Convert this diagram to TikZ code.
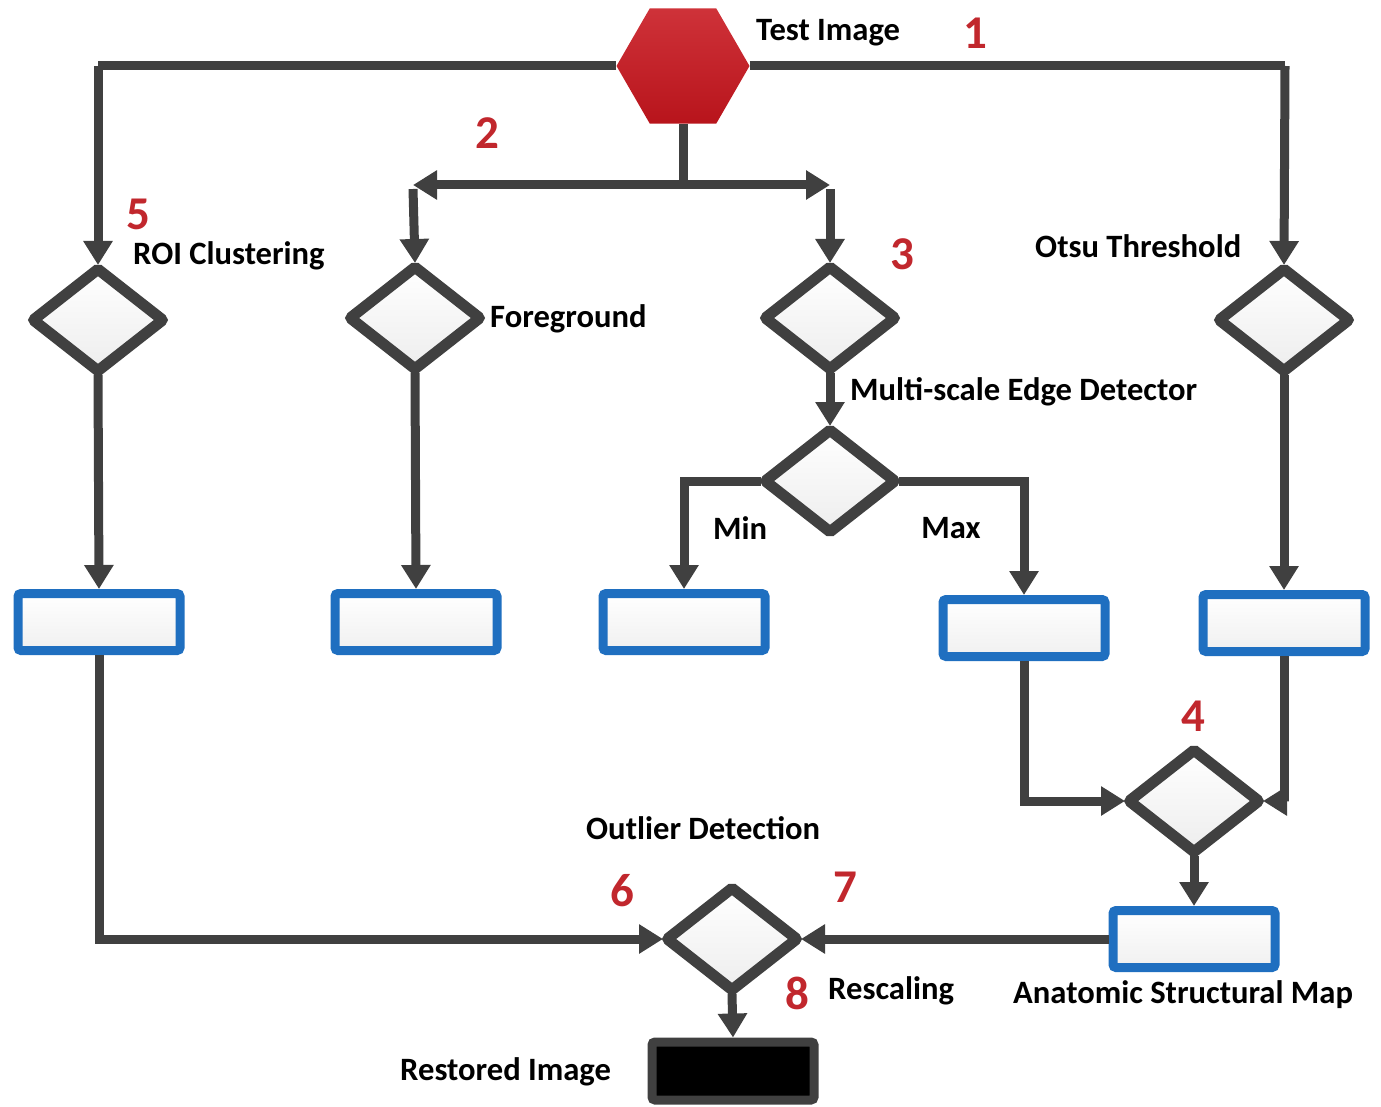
\documentclass[tikz,border=0pt]{standalone}
\usepackage{fontspec}
\setmainfont{Carlito}
\usetikzlibrary{shapes.geometric,arrows.meta}
\definecolor{linegray}{HTML}{404040}
\definecolor{boxblue}{HTML}{1F6FC0}
\definecolor{numred}{HTML}{C1272D}
\definecolor{hexred}{HTML}{C8161E}
\tikzset{
  conn/.style={draw=linegray, line width=9pt},
  arr/.style={conn, -{Triangle[width=28pt,length=24pt]}},
  diam/.style={diamond, draw=linegray, line width=11pt, rounded corners=2pt,
    minimum width=132pt, minimum height=104pt, inner sep=0pt, outer sep=3pt,
    top color=white, bottom color=gray!14},
  bbox/.style={rectangle, draw=boxblue, line width=9pt, rounded corners=3pt,
    minimum width=162pt, minimum height=57pt, inner sep=0pt,
    top color=white, bottom color=gray!12},
  blk/.style={rectangle, draw=linegray, fill=black, line width=9pt, rounded corners=3pt,
    minimum width=162pt, minimum height=58pt, inner sep=0pt},
  lbl/.style={font=\fontsize{32.6pt}{38pt}\selectfont\bfseries, inner sep=0pt, anchor=west, text=black},
  num/.style={font=\fontsize{47pt}{52pt}\selectfont\bfseries, inner sep=0pt, text=numred},
}
\begin{document}
\begin{tikzpicture}[x=1pt,y=-1pt]
\useasboundingbox (0,0) rectangle (1381,1107);

% source image
\node[regular polygon, regular polygon sides=6, minimum size=133pt, inner sep=0pt,
      top color=hexred!88!white, bottom color=hexred!92!black] (hex) at (683,66) {};

% decision nodes
\node[diam] (roi)  at (98,320)  {};
\node[diam] (fg)   at (415,318) {};
\node[diam] (d3)   at (830,318) {};
\node[diam] (otsu) at (1284,320) {};
\node[diam] (edge) at (830,481) {};
\node[diam] (d4)   at (1194,801) {};
\node[diam] (out)  at (732,939) {};

% result boxes
\node[bbox] (b1) at (99,622)   {};
\node[bbox] (b2) at (416,622)  {};
\node[bbox] (b3) at (684,622)  {};
\node[bbox] (b4) at (1024,628) {};
\node[bbox] (b5) at (1284,623) {};
\node[bbox] (asm) at (1194,939) {};
\node[blk]  (rest) at (733,1071) {};

% branching points
\coordinate (tl) at (98,66);
\coordinate (tr) at (1285,66);
\coordinate (br) at (683,185);
\coordinate (bl) at (413,185);
\coordinate (bR) at (830,185);

% connectors from the source
\draw[conn] (hex.west) -- (tl);
\draw[arr] (tl) -- (roi.north);
\draw[conn] (hex.east) -- (tr);
\draw[arr] (tr) -- (otsu.north);
\draw[conn] (hex.south) -- (br);
\draw[arr] (br) -- (bl);
\draw[arr] (br) -- (bR);
\draw[arr] ([yshift=-4pt]bl) -- (fg.north);
\draw[arr] ([yshift=-4pt]bR) -- (d3.north);

% processing paths
\draw[arr] (roi.south) -- (b1.north);
\draw[arr] (fg.south) -- (b2.north);
\draw[arr] (d3.south) -- (edge.north);
\draw[arr] (edge.west) -| (b3.north);
\draw[arr] (edge.east) -| (b4.north);
\draw[arr] (otsu.south) -- (b5.north);
\draw[arr] (b4.south) |- (d4.west);
\draw[arr] (b5.south) |- (d4.east);
\draw[arr] (d4.south) -- (asm.north);
\draw[arr] (asm.west) -- (out.east);
\draw[arr] (b1.south) |- (out.west);
\draw[arr] (out.south) -- (rest.north);

% labels
\node[lbl] at (756,33) {Test Image};
\node[lbl] at (133,256) {ROI Clustering};
\node[lbl] at (490,319) {Foreground};
\node[lbl] at (1035,246) {Otsu Threshold};
\node[lbl] at (850,392) {Multi-scale Edge Detector};
\node[lbl, anchor=center] at (740,528) {Min};
\node[lbl, anchor=center] at (951,528) {Max};
\node[lbl] at (586,828) {Outlier Detection};
\node[lbl] at (828,991) {Rescaling};
\node[lbl] at (1013,995) {Anatomic Structural Map};
\node[lbl] at (400,1072) {Restored Image};

% step numbers
\node[num] at (975,33)  {1};
\node[num] at (487,133) {2};
\node[num] at (902,254) {3};
\node[num] at (1193,716) {4};
\node[num] at (138,214) {5};
\node[num] at (622,891) {6};
\node[num] at (845,887) {7};
\node[num] at (797,993) {8};
\end{tikzpicture}
\end{document}
